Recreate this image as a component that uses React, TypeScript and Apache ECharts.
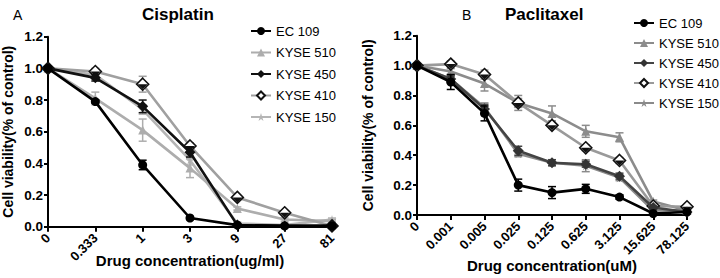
import React, { useEffect, useRef } from "react";
import * as echarts from "echarts";

// ---- Data ----
const cisCategories = ["0", "0.333", "1", "3", "9", "27", "81"];
const pacCategories = ["0", "0.001", "0.005", "0.025", "0.125", "0.625", "3.125", "15.625", "78.125"];
const yTicks = [0, 0.2, 0.4, 0.6, 0.8, 1.0, 1.2];

const lineNames = ["EC 109", "KYSE 510", "KYSE 450", "KYSE 410", "KYSE 150"];

// Cisplatin (panel A)
const cisEC109 = [1.0, 0.79, 0.39, 0.055, 0.01, 0.005, 0.005];
const cisKYSE510 = [1.0, 0.81, 0.61, 0.37, 0.115, 0.045, 0.035];
const cisKYSE450 = [1.0, 0.94, 0.76, 0.47, 0.01, 0.005, 0.005];
const cisKYSE410 = [1.0, 0.98, 0.9, 0.51, 0.185, 0.088, 0.005];
const cisKYSE150 = [1.0, 0.96, 0.74, 0.42, 0.02, 0.01, 0.045];
const cisErrEC109 = [0, 0.01, 0.03, 0.01, 0.005, 0.005, 0.005];
const cisErrKYSE510 = [0, 0.04, 0.07, 0.06, 0.01, 0.01, 0.01];
const cisErrKYSE450 = [0, 0.02, 0.04, 0.03, 0.005, 0.005, 0.005];
const cisErrKYSE410 = [0, 0.02, 0.05, 0.02, 0.01, 0.01, 0.005];
const cisErrKYSE150 = [0, 0.03, 0.03, 0.03, 0.01, 0.01, 0.01];

// Paclitaxel (panel B)
const pacEC109 = [1.0, 0.89, 0.68, 0.2, 0.15, 0.175, 0.12, 0.01, 0.02];
const pacKYSE510 = [1.0, 0.96, 0.88, 0.75, 0.68, 0.56, 0.52, 0.09, 0.03];
const pacKYSE450 = [1.0, 0.91, 0.71, 0.43, 0.35, 0.34, 0.26, 0.05, 0.02];
const pacKYSE410 = [1.0, 1.01, 0.94, 0.75, 0.6, 0.45, 0.365, 0.06, 0.055];
const pacKYSE150 = [1.0, 0.91, 0.72, 0.41, 0.35, 0.33, 0.25, 0.03, 0.03];
const pacErrEC109 = [0, 0.05, 0.05, 0.04, 0.04, 0.03, 0.015, 0.005, 0.005];
const pacErrKYSE510 = [0, 0.02, 0.05, 0.05, 0.05, 0.04, 0.03, 0.01, 0.01];
const pacErrKYSE450 = [0, 0.02, 0.03, 0.03, 0.02, 0.02, 0.02, 0.01, 0.01];
const pacErrKYSE410 = [0, 0.02, 0.03, 0.03, 0.02, 0.02, 0.02, 0.01, 0.01];
const pacErrKYSE150 = [0, 0.02, 0.03, 0.02, 0.02, 0.04, 0.02, 0.01, 0.01];

const FONT = "'Liberation Sans', Arial, Helvetica, sans-serif";

type SeriesDef = {
  name: string;
  data: number[];
  err: number[];
  color: string;
  symbol: string;
  symbolSize: number;
  fill: string;
  border: string;
  z: number;
  halfFill?: boolean;
};

const STAR = "path://M0,-10 L2.2,-3 L9.5,-3 L3.6,1.2 L5.9,8.1 L0,3.8 L-5.9,8.1 L-3.6,1.2 L-9.5,-3 L-2.2,-3 Z";
const LOWER_HALF = "path://M-1,0 L1,0 L0,1 Z";

const cisDefs: SeriesDef[] = [
  { name: lineNames[0], data: cisEC109, err: cisErrEC109, color: "#000000", symbol: "circle", symbolSize: 9, fill: "#000000", border: "#000000", z: 20 },
  { name: lineNames[1], data: cisKYSE510, err: cisErrKYSE510, color: "#adadad", symbol: "triangle", symbolSize: 9, fill: "#adadad", border: "#adadad", z: 6 },
  { name: lineNames[2], data: cisKYSE450, err: cisErrKYSE450, color: "#111111", symbol: "diamond", symbolSize: 11, fill: "#111111", border: "#111111", z: 16 },
  { name: lineNames[3], data: cisKYSE410, err: cisErrKYSE410, color: "#a0a0a0", symbol: "diamond", symbolSize: 12, fill: "#ffffff", border: "#111111", z: 10, halfFill: true },
  { name: lineNames[4], data: cisKYSE150, err: cisErrKYSE150, color: "#b5b5b5", symbol: STAR, symbolSize: 9, fill: "#b5b5b5", border: "#b5b5b5", z: 4 },
];

const pacDefs: SeriesDef[] = [
  { name: lineNames[0], data: pacEC109, err: pacErrEC109, color: "#000000", symbol: "circle", symbolSize: 9, fill: "#000000", border: "#000000", z: 20 },
  { name: lineNames[1], data: pacKYSE510, err: pacErrKYSE510, color: "#8c8c8c", symbol: "triangle", symbolSize: 9, fill: "#8c8c8c", border: "#8c8c8c", z: 6 },
  { name: lineNames[2], data: pacKYSE450, err: pacErrKYSE450, color: "#444444", symbol: "diamond", symbolSize: 11, fill: "#333333", border: "#333333", z: 16 },
  { name: lineNames[3], data: pacKYSE410, err: pacErrKYSE410, color: "#9a9a9a", symbol: "diamond", symbolSize: 12, fill: "#ffffff", border: "#111111", z: 10, halfFill: true },
  { name: lineNames[4], data: pacKYSE150, err: pacErrKYSE150, color: "#8a8a8a", symbol: STAR, symbolSize: 9, fill: "#8a8a8a", border: "#8a8a8a", z: 4 },
];

function buildSeries(defs: SeriesDef[], idx: number, prefix: string) {
  const out: any[] = [];
  defs.forEach((d) => {
    out.push({
      type: "line",
      name: prefix + d.name,
      xAxisIndex: idx,
      yAxisIndex: idx,
      data: d.data,
      symbol: d.symbol,
      symbolSize: d.symbolSize,
      showAllSymbol: true,
      z: d.z,
      lineStyle: { color: d.color, width: 2.6 },
      itemStyle: { color: d.fill, borderColor: d.border, borderWidth: d.fill === "#ffffff" ? 1.6 : 0 },
      emphasis: { disabled: true },
    });
    if (d.halfFill) {
      out.push({
        type: "scatter",
        name: prefix + d.name + " half",
        xAxisIndex: idx,
        yAxisIndex: idx,
        z: d.z + 2,
        silent: true,
        data: d.data,
        symbol: LOWER_HALF,
        symbolKeepAspect: false,
        symbolSize: [d.symbolSize - 2, (d.symbolSize - 2) / 2],
        symbolOffset: [0, (d.symbolSize - 2) / 4],
        itemStyle: { color: d.border, opacity: 1 },
        emphasis: { disabled: true },
      });
    }
    out.push({
      type: "custom",
      name: prefix + d.name + " err",
      xAxisIndex: idx,
      yAxisIndex: idx,
      z: d.z - 1,
      silent: true,
      data: d.data.map((v, i) => [i, v, d.err[i]]),
      renderItem: (params: any, api: any) => {
        const x = api.value(0);
        const v = api.value(1);
        const e = api.value(2);
        if (!e) return null;
        const top = api.coord([x, v + e]);
        const bot = api.coord([x, v - e]);
        const hw = 4;
        const st = { stroke: d.color, lineWidth: 1.5 };
        return {
          type: "group",
          children: [
            { type: "line", shape: { x1: top[0], y1: top[1], x2: bot[0], y2: bot[1] }, style: st },
            { type: "line", shape: { x1: top[0] - hw, y1: top[1], x2: top[0] + hw, y2: top[1] }, style: st },
            { type: "line", shape: { x1: bot[0] - hw, y1: bot[1], x2: bot[0] + hw, y2: bot[1] }, style: st },
          ],
        };
      },
    });
  });
  return out;
}

function xAxisDef(cats: string[], idx: number, name: string, gap: number) {
  return {
    type: "category",
    gridIndex: idx,
    data: cats,
    boundaryGap: false,
    name,
    nameLocation: "middle",
    nameGap: gap,
    nameMoveOverlap: false,
    nameTextStyle: { fontFamily: FONT, fontWeight: "bold", fontSize: 15, color: "#000" },
    axisLine: { lineStyle: { color: "#000", width: 2 } },
    axisTick: { show: true, length: 5, alignWithLabel: true, lineStyle: { color: "#000", width: 2 } },
    axisLabel: { rotate: 45, interval: 0, fontFamily: FONT, fontWeight: "bold", fontSize: 13, color: "#000", margin: 9 },
    splitLine: { show: false },
  };
}

function yAxisDef(idx: number, gap: number) {
  return {
    type: "value",
    gridIndex: idx,
    min: yTicks[0],
    max: yTicks[yTicks.length - 1],
    interval: 0.2,
    name: "Cell viability(% of control)",
    nameLocation: "middle",
    nameRotate: 90,
    nameGap: gap,
    nameMoveOverlap: false,
    nameTextStyle: { fontFamily: FONT, fontWeight: "bold", fontSize: 14, color: "#000" },
    axisLine: { show: true, lineStyle: { color: "#000", width: 2 } },
    axisTick: { show: true, length: 4, lineStyle: { color: "#000", width: 2 } },
    axisLabel: {
      fontFamily: FONT,
      fontWeight: "bold",
      fontSize: 13.5,
      color: "#000",
      margin: 5,
      formatter: (v: number) => v.toFixed(1),
    },
    splitLine: { show: false },
  };
}

function legendDef(defs: SeriesDef[], prefix: string, left: number, top: number, gap: number, textGap: number) {
  return {
    orient: "vertical",
    left,
    top,
    padding: 0,
    itemWidth: 20,
    itemHeight: 10,
    itemGap: gap,
    itemTextGap: textGap,
    selectedMode: false,
    data: defs.map((d) => prefix + d.name),
    formatter: (n: string) => n.slice(prefix.length),
    textStyle: { fontFamily: FONT, fontSize: 13, color: "#000", lineHeight: 14, overflow: "none" },
  };
}

export default function App() {
  const ref = useRef<HTMLDivElement>(null);
  useEffect(() => {
    if (!ref.current) return;
    const chart = echarts.init(ref.current, undefined, { renderer: "svg" });
    chart.setOption({
      animation: false,
      backgroundColor: "#ffffff",
      title: [
        { text: "A", left: 8, top: 3, textStyle: { fontFamily: FONT, fontWeight: "normal", fontSize: 14, color: "#000" } },
        { text: "Cisplatin", left: 137, top: 1, textStyle: { fontFamily: FONT, fontWeight: "bold", fontSize: 17, color: "#000" } },
        { text: "B", left: 457, top: 3, textStyle: { fontFamily: FONT, fontWeight: "normal", fontSize: 14, color: "#000" } },
        { text: "Paclitaxel", left: 500, top: 1, textStyle: { fontFamily: FONT, fontWeight: "bold", fontSize: 17, color: "#000" } },
      ],
      legend: [
        legendDef(cisDefs, "A:", 250, 24, 7.5, 12),
        legendDef(pacDefs, "B:", 633, 16, 6, 9),
      ],
      grid: [
        { left: 48, top: 36.7, width: 284, height: 190, containLabel: false },
        { left: 417, top: 35.7, width: 270, height: 180, containLabel: false },
      ],
      xAxis: [
        xAxisDef(cisCategories, 0, "Drug concentration(ug/ml)", 26),
        xAxisDef(pacCategories, 1, "Drug concentration(uM)", 43),
      ],
      yAxis: [yAxisDef(0, 33), yAxisDef(1, 42)],
      series: [...buildSeries(cisDefs, 0, "A:"), ...buildSeries(pacDefs, 1, "B:")],
    });
    return () => chart.dispose();
  }, []);
  return (
    <div
      ref={ref}
      style={{ position: "fixed", left: 0, top: 0, width: 720, height: 278, background: "#fff" }}
    />
  );
}
